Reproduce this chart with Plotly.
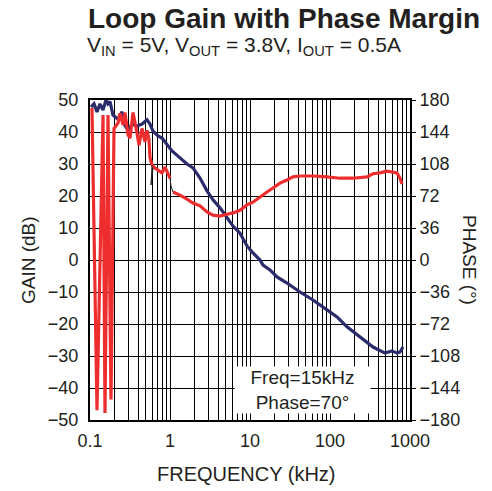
import plotly.graph_objects as go

# ---------------- data ----------------
gain_freq_khz = [0.1029, 0.1122, 0.1223, 0.1334, 0.1454, 0.1585, 0.1679, 0.1778, 0.1938, 0.2239,
                 0.2512, 0.2661, 0.2985, 0.3350, 0.3868, 0.4467, 0.5158, 0.5623, 0.6130, 0.7079,
                 0.7943, 0.9173, 1.0593, 1.3335, 1.6315, 1.9387, 2.3714, 2.9003, 3.4473, 4.2170,
                 5.1582, 6.1306, 7.4989, 9.1728, 10.901, 13.335, 14.538, 17.783, 21.752, 29.003,
                 42.170, 61.306, 91.728, 122.35, 163.15, 237.14, 344.73, 486.97, 595.66, 687.87,
                 749.89, 817.52]
gain_db = [47.8, 48.8, 46.3, 48.8, 46.9, 50.0, 48.8, 49.5, 45.3, 44.0,
           46.3, 42.5, 40.6, 42.5, 41.9, 42.5, 43.8, 42.5, 40.3, 38.8,
           38.1, 35.9, 34.1, 31.9, 30.0, 28.8, 25.6, 21.6, 18.8, 16.3,
           13.4, 10.6, 8.4, 4.4, 2.2, 0.0, -1.6, -3.1, -5.3, -7.2,
           -10.0, -12.5, -15.6, -17.8, -20.9, -24.1, -27.2, -29.1, -28.4, -29.1,
           -28.75, -27.2]

phase_freq_khz = [0.1059, 0.1223, 0.1454, 0.1540, 0.1679, 0.1830, 0.1995, 0.2239, 0.2371, 0.2586,
                  0.2738, 0.2985, 0.3162, 0.3449, 0.3868, 0.4097, 0.4467, 0.4870, 0.5158, 0.5464,
                  0.5623, 0.5957, 0.6494, 0.7079, 0.7943, 0.8660, 0.9441, 1.0, None,
                  1.0901, 1.3335, 1.6315, 1.9387, 2.3714, 2.9003, 3.4473, 4.2170, 5.1582, 6.1306,
                  7.4989, 9.1728, 10.901, 13.335, 16.315, 19.387, 23.714, 29.003, 34.473, 42.170,
                  61.306, 91.728, 133.35, 193.87, 290.03, 344.73, 421.70, 515.82, 595.66, 687.87,
                  749.89, 794.33]
phase_deg = [171, -169, 163, -172, 163, -157, 148, 154, 165, 152,
             166, 141, 137, 166, 143, 129, 148, 133, 146, 135,
             115, 107, 103.5, 101, 98, 104.5, 95.5, 92, None,
             76.5, 73, 68.5, 64, 61, 54, 50.5, 49.5, 51.5, 53,
             56, 62, 65, 71, 76.5, 81, 86.5, 90, 93.5, 94.5,
             94.5, 93.5, 92, 92, 93.5, 97, 98, 100, 99, 98,
             92, 85.5]

# thin dark connector segments inside the phase trace
conn_freq_khz = [0.5957, 0.5788, 0.6130, None, 1.0, 1.0292, 1.0901]
conn_deg = [106.9, 84.4, 103.5, None, 92, 83.25, 76.5]

x_tick_vals = [0.1, 1, 10, 100, 1000]
x_tick_text = ["0.1", "1", "10", "100", "1000"]
x_minor_vals = [m * d for d in [0.1, 1, 10, 100] for m in range(2, 10)]
gain_ticks = [50, 40, 30, 20, 10, 0, -10, -20, -30, -40, -50]
phase_ticks = [180, 144, 108, 72, 36, 0, -36, -72, -108, -144, -180]

title_text = "<b>Loop Gain with Phase Margin</b>"
subtitle_text = "V<sub>IN</sub> = 5V, V<sub>OUT</sub> = 3.8V, I<sub>OUT</sub> = 0.5A"
note_text = "Freq=15kHz<br>Phase=70°"

# ---------------- figure ----------------
FONT = "Liberation Sans, Arial, sans-serif"
NAVY = "#2b2c6b"
RED = "#ee2e2e"
TXT = "#231f20"

fig = go.Figure()
fig.add_trace(go.Scatter(x=phase_freq_khz, y=phase_deg, yaxis="y2", mode="lines",
                         line=dict(color=RED, width=3.2), connectgaps=False, name="Phase"))
fig.add_trace(go.Scatter(x=conn_freq_khz, y=conn_deg, yaxis="y2", mode="lines",
                         line=dict(color="#222222", width=1), connectgaps=False, name="conn"))
fig.add_trace(go.Scatter(x=gain_freq_khz, y=gain_db, mode="lines",
                         line=dict(color=NAVY, width=3.2), name="Gain"))

grid = dict(showgrid=True, gridcolor="black", gridwidth=1.2)

fig.update_layout(
    width=492, height=491,
    margin=dict(l=90, r=82, t=100, b=71, autoexpand=False),
    paper_bgcolor="white", plot_bgcolor="white",
    showlegend=False,
    font=dict(family=FONT, size=18, color=TXT),
    xaxis=dict(type="log", range=[-1, 3], tickmode="array", tickvals=x_tick_vals,
               ticktext=x_tick_text, ticks="", showline=True, linecolor="black",
               linewidth=2, mirror=True, zeroline=False, ticklabelstandoff=3,
               minor=dict(tickmode="array", tickvals=x_minor_vals, showgrid=True,
                          gridcolor="black", gridwidth=1.2, ticks=""),
               tickfont=dict(size=18), **grid),
    yaxis=dict(range=[-50, 50], tickmode="array", tickvals=gain_ticks, ticks="",
               showline=True, linecolor="black", linewidth=2, mirror=True,
               zeroline=False, ticklabelstandoff=6, tickfont=dict(size=18), **grid),
    yaxis2=dict(range=[-180, 180], tickmode="array", tickvals=phase_ticks,
                overlaying="y", side="right", ticks="outside", ticklen=5,
                tickcolor="black", showgrid=False, zeroline=False,
                tickfont=dict(size=18)),
    title=dict(text=title_text, x=88 / 492, xanchor="left", xref="container",
               y=1 - 8 / 491, yanchor="top", font=dict(size=28, family=FONT, color=TXT)),
)

fig.add_annotation(text=subtitle_text, xref="paper", yref="paper",
                   x=(85 - 90) / 320, y=1 + (100 - 46) / 320, xanchor="left", yanchor="middle",
                   showarrow=False, font=dict(size=21, family=FONT))
fig.add_annotation(text="GAIN (dB)", xref="paper", yref="paper",
                   x=(28 - 90) / 320, y=0.5, xanchor="center", yanchor="middle",
                   textangle=-90, showarrow=False, font=dict(size=19, family=FONT))
fig.add_annotation(text="PHASE (°)", xref="paper", yref="paper",
                   x=(470 - 90) / 320, y=0.5, xanchor="center", yanchor="middle",
                   textangle=90, showarrow=False, font=dict(size=19, family=FONT))
fig.add_annotation(text="FREQUENCY (kHz)", xref="paper", yref="paper",
                   x=(246 - 90) / 320, y=(420 - 474) / 320, xanchor="center", yanchor="middle",
                   showarrow=False, font=dict(size=20, family=FONT))
fig.add_annotation(text=note_text, xref="paper", yref="paper",
                   x=(302 - 90) / 320, y=(420 - 390) / 320, xanchor="center", yanchor="middle",
                   align="center", width=129, height=40, borderpad=3, bgcolor="white",
                   showarrow=False, font=dict(size=19, family=FONT))

fig.write_html("out.html", config={"displayModeBar": False},
               post_script="document.body.style.margin='0';document.body.style.padding='0';")
